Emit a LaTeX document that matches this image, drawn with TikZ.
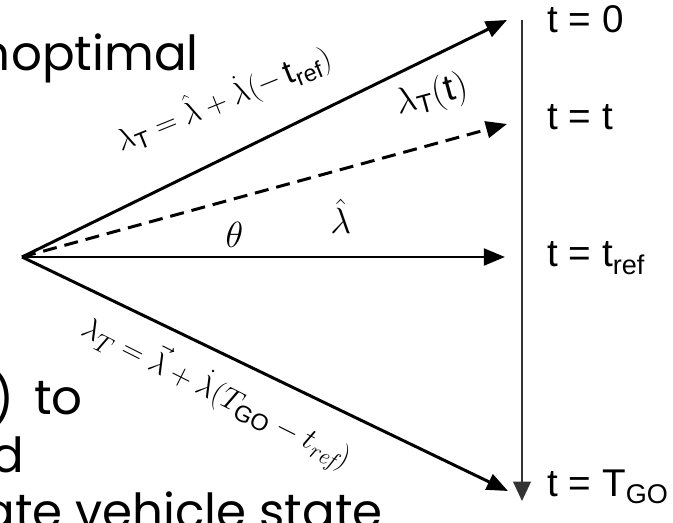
\documentclass[tikz,border=0pt]{standalone}
\usepackage{amsmath}
\usepackage{fontspec}
\setsansfont{Liberation Sans}
\newfontfamily\slidefont{Poppins}
\usetikzlibrary{arrows.meta}
\tikzset{
  ray/.style={line width=1.7pt,-{Triangle[length=12pt,width=9.5pt]}},
  timeline/.style={line width=1.2pt,black!80,-{Triangle[length=11pt,width=10pt]}},
  timelbl/.style={anchor=base west,inner sep=0pt,font=\sffamily\fontsize{22}{26}\selectfont},
  slidetxt/.style={anchor=base east,inner sep=0pt,font=\slidefont\fontsize{27.5}{33}\selectfont},
  eqlbl/.style={sloped,font=\fontsize{19}{23}\selectfont}
}
\begin{document}
\begin{tikzpicture}[x=0.02cm,y=-0.02cm]
  \useasboundingbox (0,0) rectangle (673,523);
  \clip (0,0) rectangle (673,523);

  % slide text behind the figure
  \node[slidetxt] (s0) at (11,71){n};
  \node[slidetxt] (s1) at (199,71){optimal};
  \node[slidetxt] (s2) at (15,417){o)};
  \node[slidetxt] (s3) at (83,415){to};
  \node[slidetxt] (s4) at (25,473){d};
  \node[slidetxt] (s5) at (383,528){ate vehicle state};

  \coordinate (O) at (22,257);
  \coordinate (E0) at (507,20);
  \coordinate (Et) at (507,124);
  \coordinate (Eref) at (505,257);
  \coordinate (Ego) at (508,491);
  \coordinate (Vtop) at (522,20);
  \coordinate (Vbot) at (522,501);

  \draw (O) edge[ray] node[eqlbl,pos=0.46,above=16pt,rotate=-4]{$\lambda_{\textsf{T}} = \hat{\lambda} + \dot{\lambda}(-\,\textsf{t}_{\textsf{ref}})$} (E0);
  \draw (O) edge[ray,dash pattern=on 8pt off 4.5pt] node[eqlbl,pos=0.87,above=12pt,font=\fontsize{21}{25}\selectfont]{$\lambda_{\textsf{T}}(\textsf{t})$} (Et);
  \draw (O) edge[ray] node[pos=0.44,above=1pt,font=\fontsize{20}{24}\selectfont]{$\theta$}
                      node[pos=0.66,above=9pt,font=\fontsize{20}{24}\selectfont]{$\hat{\lambda}$} (Eref);
  \draw (O) edge[ray] node[eqlbl,pos=0.435,below=6pt,rotate=-1]{$\lambda_T = \vec{\lambda} + \dot{\lambda}(T_{\textsf{GO}} - t_{\mathit{ref}})$} (Ego);
  \draw (Vtop) edge[timeline] (Vbot);

  \node[timelbl] (L0) at (547,33){t = 0};
  \node[timelbl] (Lt) at (547,130){t = t};
  \node[timelbl] (Lref) at (547,267){t = t$_{\text{ref}}$};
  \node[timelbl] (Lgo) at (547,497){t = T$_{\text{GO}}$};
\end{tikzpicture}
\end{document}
